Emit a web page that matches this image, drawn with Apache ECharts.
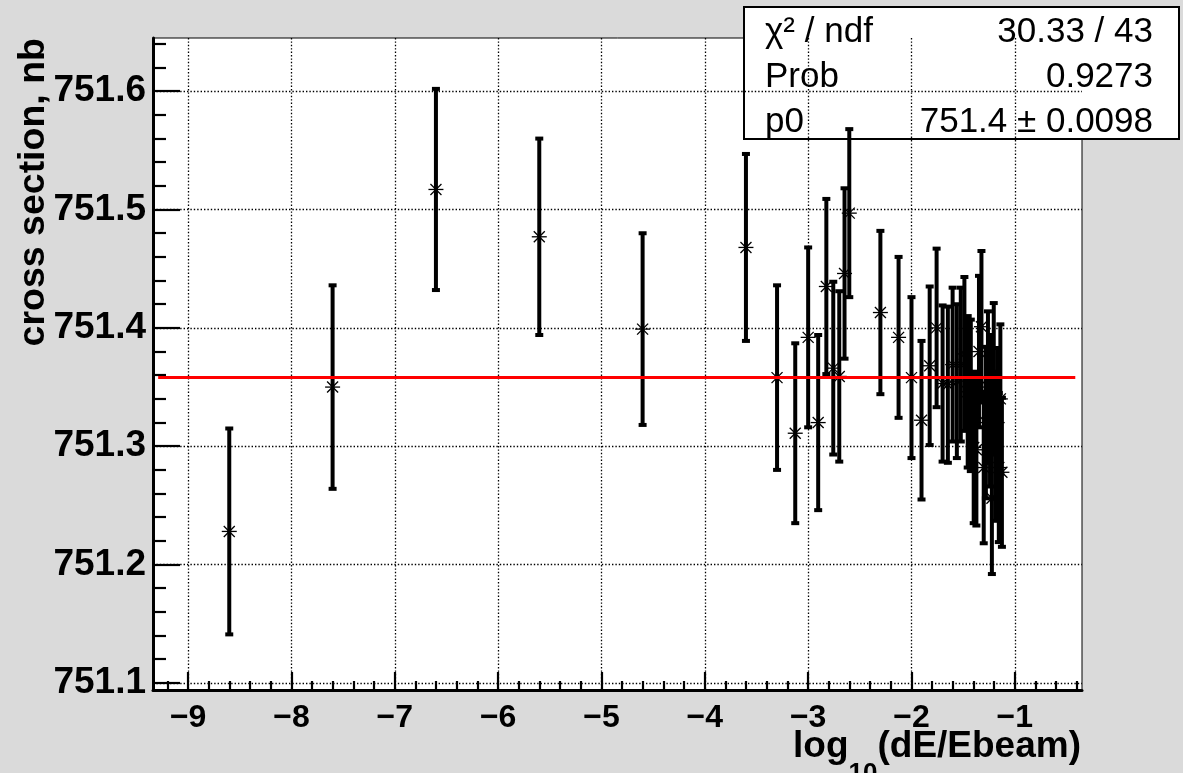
<!DOCTYPE html>
<html>
<head>
<meta charset="utf-8">
<script src="https://cdn.jsdelivr.net/npm/echarts@6/dist/echarts.min.js"></script>
<style>
  html, body { margin: 0; padding: 0; background: #dadada; }
  #chart { width: 1183px; height: 773px; }
</style>
</head>
<body>
<div id="chart"></div>
<script>
// log10(dE/Ebeam) of each measurement
const logDE = [
  -8.602, -7.602, -6.602, -5.602, -4.602, -3.602,
  -3.301, -3.125, -3.000, -2.903, -2.824, -2.757, -2.699, -2.648, -2.602,
  -2.301, -2.125, -2.000, -1.903, -1.824, -1.757, -1.699, -1.648,
  -1.602, -1.561, -1.523, -1.488, -1.456, -1.426, -1.398, -1.372, -1.347, -1.323,
  -1.301, -1.280, -1.260, -1.240, -1.222, -1.204, -1.187, -1.171, -1.155, -1.140, -1.125
];
// cross section, nb
const xsec = [
  751.228, 751.350, 751.517, 751.477, 751.399, 751.468,
  751.358, 751.311, 751.392, 751.320, 751.435, 751.366, 751.359, 751.446, 751.497,
  751.413, 751.392, 751.358, 751.322, 751.368, 751.400, 751.353, 751.352,
  751.369, 751.355, 751.369, 751.378, 751.346, 751.343, 751.299, 751.297, 751.380, 751.401,
  751.282, 751.320, 751.350, 751.330, 751.256, 751.357, 751.300, 751.320, 751.282, 751.340, 751.278
];
// statistical error on the cross section, nb
const xsecErr = [
  0.087, 0.086, 0.085, 0.083, 0.081, 0.079,
  0.078, 0.076, 0.076, 0.074, 0.074, 0.073, 0.072, 0.072, 0.071,
  0.069, 0.068, 0.068, 0.067, 0.067, 0.067, 0.066, 0.066,
  0.065, 0.065, 0.065, 0.065, 0.064, 0.064, 0.064, 0.064, 0.064, 0.064,
  0.064, 0.064, 0.064, 0.064, 0.064, 0.064, 0.063, 0.063, 0.063, 0.063, 0.063
];

// constant fit p0
const fitP0 = 751.358;
const fitRange = [-9.29, -0.415];

const xRange = [-9.34, -0.35];
const yRange = [751.094, 751.645];
const xMajorTicks = [-9, -8, -7, -6, -5, -4, -3, -2, -1];
const yMajorTicks = [751.1, 751.2, 751.3, 751.4, 751.5, 751.6];

const statRows = [
  ['\u03c7\u00b2 / ndf', '30.33 / 43'],
  ['Prob', '0.9273'],
  ['p0', '751.4 \u00b1 0.0098']
];

// minor tick positions: five divisions per major step
function minorTicks(range, step) {
  const out = [];
  const start = Math.ceil(range[0] / step - 1e-9);
  const end = Math.floor(range[1] / step + 1e-9);
  for (let i = start; i <= end; i++) {
    if (i % 5 !== 0) out.push(+(i * step).toFixed(6));
  }
  return out;
}
const xMinorTicks = minorTicks(xRange, 0.2);
const yMinorTicks = minorTicks(yRange, 0.02);

const FONT = '"Liberation Sans", Arial, Helvetica, sans-serif';

const chart = echarts.init(document.getElementById('chart'), null, { renderer: 'canvas' });

const points = logDE.map((x, i) => [x, xsec[i], xsecErr[i]]);

// vertical error bar with end caps and an asterisk marker at the measured value
function renderErrorPoint(params, api) {
  const x = api.value(0), y = api.value(1), e = api.value(2);
  const c = api.coord([x, y]);
  const t = api.coord([x, y + e]);
  const b = api.coord([x, y - e]);
  const bar = { stroke: '#000', lineWidth: 4 };
  const cap = { stroke: '#000', lineWidth: 4 };
  const thin = { stroke: '#000', lineWidth: 1.3 };
  const r = 7.5, d = 5.5;
  return {
    type: 'group',
    children: [
      { type: 'line', shape: { x1: c[0], y1: t[1], x2: c[0], y2: b[1] }, style: bar },
      { type: 'line', shape: { x1: c[0] - 4, y1: t[1], x2: c[0] + 4, y2: t[1] }, style: cap },
      { type: 'line', shape: { x1: c[0] - 4, y1: b[1], x2: c[0] + 4, y2: b[1] }, style: cap },
      { type: 'line', shape: { x1: c[0] - r, y1: c[1], x2: c[0] + r, y2: c[1] }, style: thin },
      { type: 'line', shape: { x1: c[0], y1: c[1] - r, x2: c[0], y2: c[1] + r }, style: thin },
      { type: 'line', shape: { x1: c[0] - d, y1: c[1] - d, x2: c[0] + d, y2: c[1] + d }, style: thin },
      { type: 'line', shape: { x1: c[0] - d, y1: c[1] + d, x2: c[0] + d, y2: c[1] - d }, style: thin }
    ]
  };
}

const gridLine = { show: true, lineStyle: { color: '#000', width: 1.3, type: [1.4, 2] } };

const option = {
  backgroundColor: '#dadada',
  animation: false,
  grid: {
    left: 153, right: 101, top: 38, bottom: 83,
    show: true, backgroundColor: '#ffffff', borderColor: '#000', borderWidth: 1
  },
  xAxis: [
    {
      type: 'value', min: xRange[0], max: xRange[1], position: 'bottom',
      axisLine: { show: true, onZero: false, lineStyle: { color: '#000', width: 3 } },
      axisTick: { show: true, inside: true, length: 18, customValues: xMajorTicks,
                  lineStyle: { color: '#000', width: 2.2 } },
      axisLabel: { show: true, customValues: xMajorTicks, margin: 12,
                   color: '#000', fontFamily: FONT, fontWeight: 'bold', fontSize: 32,
                   formatter: v => (v < 0 ? '\u2212' : '') + Math.abs(v) },
      splitLine: Object.assign({ customValues: xMajorTicks }, gridLine)
    },
    {
      type: 'value', min: xRange[0], max: xRange[1], position: 'bottom', offset: 0,
      axisLine: { show: false },
      axisTick: { show: true, inside: true, length: 9, customValues: xMinorTicks,
                  lineStyle: { color: '#000', width: 2.2 } },
      axisLabel: { show: false },
      splitLine: { show: false }
    }
  ],
  yAxis: [
    {
      type: 'value', min: yRange[0], max: yRange[1], position: 'left',
      axisLine: { show: true, onZero: false, lineStyle: { color: '#000', width: 3 } },
      axisTick: { show: true, inside: true, length: 27, customValues: yMajorTicks,
                  lineStyle: { color: '#000', width: 2.2 } },
      axisLabel: { show: true, customValues: yMajorTicks, margin: 7,
                   color: '#000', fontFamily: FONT, fontWeight: 'bold', fontSize: 37,
                   formatter: v => v.toFixed(1) },
      splitLine: Object.assign({ customValues: yMajorTicks }, gridLine)
    },
    {
      type: 'value', min: yRange[0], max: yRange[1], position: 'left', offset: 0,
      axisLine: { show: false },
      axisTick: { show: true, inside: true, length: 13, customValues: yMinorTicks,
                  lineStyle: { color: '#000', width: 2.2 } },
      axisLabel: { show: false },
      splitLine: { show: false }
    }
  ],
  series: [
    {
      name: 'cross section',
      type: 'custom',
      xAxisIndex: 0, yAxisIndex: 0,
      renderItem: renderErrorPoint,
      data: points,
      z: 3
    },
    {
      name: 'fit',
      type: 'line',
      xAxisIndex: 0, yAxisIndex: 0,
      data: fitRange.map(x => [x, fitP0]),
      symbol: 'none',
      lineStyle: { color: '#ff0000', width: 3 },
      z: 4
    }
  ],
  graphic: [
    {
      type: 'text', x: 34, y: 38, rotation: Math.PI / 2, z: 10,
      style: {
        text: 'cross section, nb', fill: '#000',
        font: 'bold 37.5px ' + FONT,
        align: 'right', verticalAlign: 'middle',
        textAlign: 'right', textVerticalAlign: 'middle'
      }
    },
    {
      type: 'text', x: 1081, y: 747, z: 10,
      style: {
        text: '{m|log}{s|10}{m|(dE/Ebeam)}',
        fill: '#000',
        align: 'right', verticalAlign: 'middle',
        textAlign: 'right', textVerticalAlign: 'middle',
        rich: {
          m: { font: 'bold 37px ' + FONT, fill: '#000' },
          s: { font: 'bold 26px ' + FONT, fill: '#000', verticalAlign: 'bottom', padding: [54, 0, 0, 0] }
        }
      }
    },
    {
      type: 'group', z: 20,
      children: [
        { type: 'rect', shape: { x: 744, y: 7, width: 435, height: 132 },
          style: { fill: '#fff', stroke: '#000', lineWidth: 2 } }
      ].concat(statRows.flatMap((row, i) => [
        { type: 'text', x: 765, y: 32 + i * 45,
          style: { text: row[0], fill: '#000', font: '35px ' + FONT,
                   align: 'left', verticalAlign: 'middle', textAlign: 'left', textVerticalAlign: 'middle' } },
        { type: 'text', x: 1153, y: 32 + i * 45,
          style: { text: row[1], fill: '#000', font: '35px ' + FONT,
                   align: 'right', verticalAlign: 'middle', textAlign: 'right', textVerticalAlign: 'middle' } }
      ]))
    }
  ]
};

chart.setOption(option);
</script>
</body>
</html>
